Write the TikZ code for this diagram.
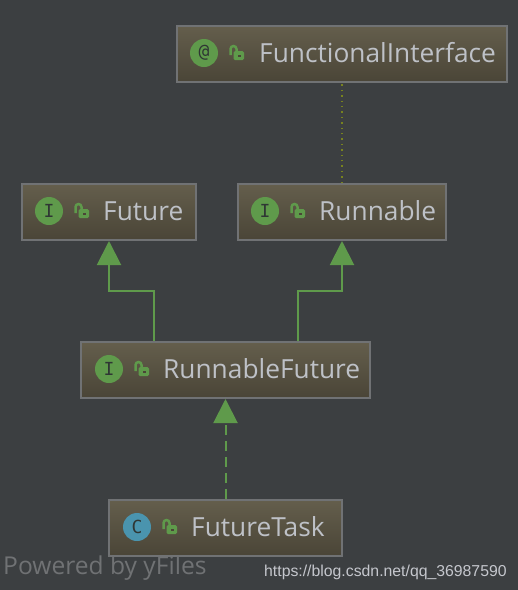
\documentclass[tikz,border=0pt]{standalone}
\usepackage{fontspec}
\usepackage{xcolor}
\usepackage{tikz}
\usetikzlibrary{arrows.meta}
\setmainfont{Open Sans}
\newfontfamily\urlfont{Liberation Sans}
\newfontfamily\letterfont{DejaVu Sans Mono}
\definecolor{darkbg}{HTML}{3C3F41}
\definecolor{boxtop}{HTML}{645E4C}
\definecolor{boxbottom}{HTML}{4A4537}
\definecolor{boxedge}{HTML}{707274}
\definecolor{labelgray}{HTML}{BEC1C7}
\definecolor{ideagreen}{HTML}{5F9A4B}
\definecolor{ideablue}{HTML}{4A94AE}
\definecolor{dotolive}{HTML}{78821F}
\definecolor{letterdark}{HTML}{2F3634}
\tikzset{
  classbox/.style={draw=boxedge, line width=2pt, top color=boxtop, bottom color=boxbottom, inner sep=0pt, minimum height=56pt},
  kindicon/.style={circle, fill=ideagreen, minimum size=28pt, inner sep=0pt, text=letterdark, font=\letterfont\fontsize{18}{18}\selectfont},
  classlabel/.style={anchor=west, inner sep=0pt, text=labelgray, font=\fontsize{26.3}{30}\selectfont},
  inherits/.style={ideagreen, line width=2pt, -{Triangle[length=24pt, width=24pt]}},
  pics/lockicon/.style={code={
    \draw[ideagreen, line width=2.5pt, rounded corners=3pt] (-8.5,1) -- (-8.5,-8) -- (-2.5,-8) -- (-2.5,-3);
    \fill[ideagreen, rounded corners=1.5pt] (-5.5,-3) rectangle (5,6);
    \fill[boxbottom] (-1.5,0.5) rectangle (2,2.5);
  }}
}

\begin{document}
\begin{tikzpicture}[x=1pt, y=-1pt]
  \fill[darkbg] (0,0) rectangle (518,590);
  \useasboundingbox (0,0) rectangle (518,590);

  \node[classbox, minimum width=330pt] (functional) at (342,54) {};
  \node[classbox, minimum width=174pt] (future) at (109,212) {};
  \node[classbox, minimum width=208pt] (runnable) at (342,212) {};
  \node[classbox, minimum width=289pt] (runnablefuture) at (225.5,370) {};
  \node[classbox, minimum width=233pt] (futuretask) at (225.5,528) {};

  \node[kindicon] (functionalicon) at (204,53) {@};
  \node[kindicon] (futureicon) at (49,211) {I};
  \node[kindicon] (runnableicon) at (265,211) {I};
  \node[kindicon] (runnablefutureicon) at (109,369) {I};
  \node[kindicon, fill=ideablue] (futuretaskicon) at (137,527) {C};

  \pic at (239,54) {lockicon};
  \pic at (84,212) {lockicon};
  \pic at (300,212) {lockicon};
  \pic at (144,370) {lockicon};
  \pic at (172,528) {lockicon};

  \node[classlabel] (functionallabel) at (259,53) {FunctionalInterface};
  \node[classlabel] (futurelabel) at (103,211) {Future};
  \node[classlabel] (runnablelabel) at (319,211) {Runnable};
  \node[classlabel] (runnablefuturelabel) at (163,369) {RunnableFuture};
  \node[classlabel] (futuretasklabel) at (191,527) {FutureTask};

  \coordinate (leftfoot) at (154,341);
  \coordinate (rightfoot) at (298,341);
  \draw[inherits] (leftfoot) -- (154,291) -- (109,291) -- (future.south);
  \draw[inherits] (rightfoot) -- (298,291) -- (342,291) -- (runnable.south);
  \draw[inherits, dash pattern=on 10pt off 6pt] (futuretask.north) -- (runnablefuture.south);
  \draw[dotolive, line width=1.4pt, dash pattern=on 1.4pt off 4pt] (runnable.north) -- (functional.south);

  \node[anchor=base west, inner sep=0pt, text=boxedge, font=\fontsize{24.6}{28}\selectfont] (poweredby) at (3,574) {Powered by yFiles};
  \node[anchor=base west, inner sep=0pt, text=labelgray!90!white, font=\urlfont\fontsize{15.8}{20}\selectfont] (bloglink) at (264,576) {https://blog.csdn.net/qq\_36987590};
\end{tikzpicture}
\end{document}
